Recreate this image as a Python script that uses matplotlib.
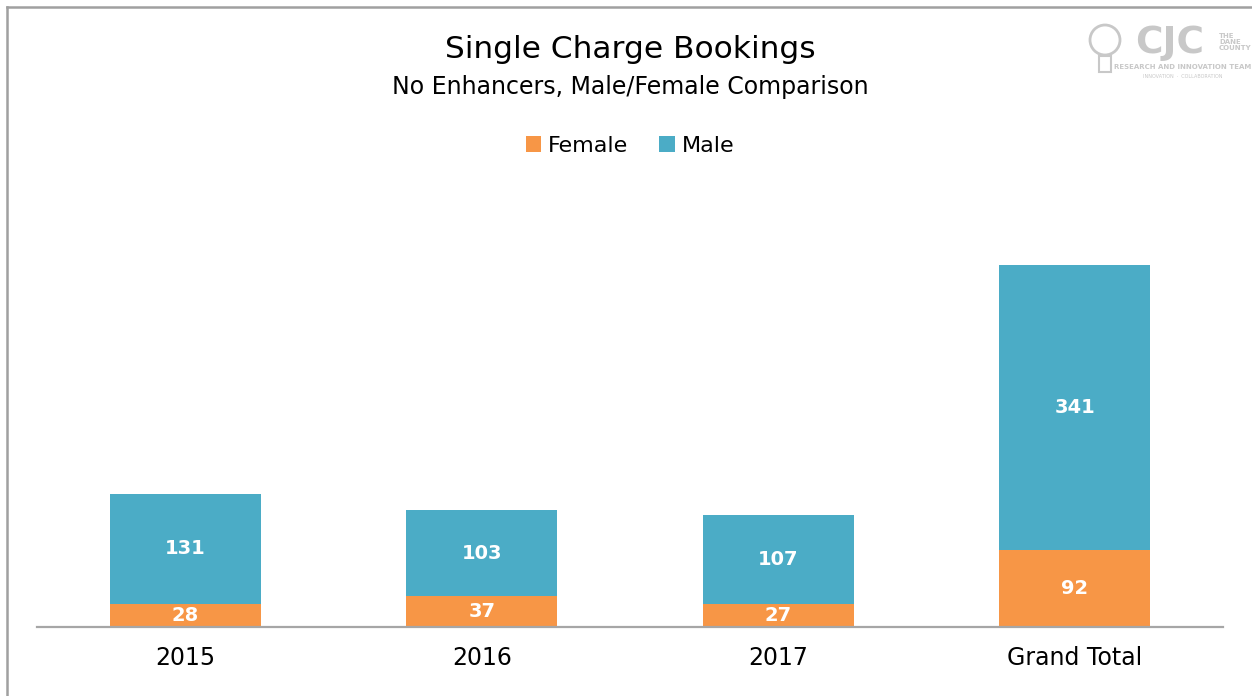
import matplotlib.pyplot as plt
from matplotlib.lines import Line2D
from matplotlib.patches import Ellipse, Rectangle

categories = ['2015', '2016', '2017', 'Grand Total']
female = [28, 37, 27, 92]
male = [131, 103, 107, 341]

orange = '#F79646'
blue = '#4BACC6'

plt.rcParams['font.family'] = ['DejaVu Sans']

W, H = 1252, 696
fig = plt.figure(figsize=(W / 100, H / 100), dpi=100)
ax = fig.add_axes([37 / W, 1 - 627 / H, 1186 / W, 418 / H])

x = range(len(categories))
bars_f = ax.bar(x, female, width=0.51, color=orange, label='Female')
bars_m = ax.bar(x, male, width=0.51, bottom=female, color=blue, label='Male')

# value labels in the middle of each segment
for bar, value in zip(bars_f, female):
    ax.text(bar.get_x() + bar.get_width() / 2, value / 2, str(value),
            ha='center', va='center', color='white', fontsize=14, fontweight='bold')
for bar, value, base in zip(bars_m, male, female):
    ax.text(bar.get_x() + bar.get_width() / 2, base + value / 2, str(value),
            ha='center', va='center', color='white', fontsize=14, fontweight='bold')

ax.set_xlim(-0.5, 3.5)
ax.set_ylim(0, 500)
ax.set_xticks(list(x))
ax.set_xticklabels(categories, fontsize=17)
ax.tick_params(axis='x', length=0, pad=14)
ax.set_yticks([])
for side in ['left', 'right', 'top']:
    ax.spines[side].set_visible(False)
ax.spines['bottom'].set_color('#a6a6a6')
ax.spines['bottom'].set_linewidth(1.6)

fig.text(630 / W, 1 - 50 / H, 'Single Charge Bookings', ha='center', va='center', fontsize=22.5)
fig.text(630 / W, 1 - 87 / H, 'No Enhancers, Male/Female Comparison', ha='center', va='center', fontsize=17)

fig.legend(loc='center', bbox_to_anchor=(630 / W, 1 - 146 / H), ncol=2, frameon=False,
           fontsize=16, handlelength=0.7, handleheight=0.7, handletextpad=0.3, columnspacing=1.4)

# figure border (left and top edges visible)
fig.add_artist(Line2D([7 / W, 7 / W], [0, 1 - 7 / H], color='#a0a0a0', lw=1.8))
fig.add_artist(Line2D([7 / W, 1], [1 - 7 / H, 1 - 7 / H], color='#a0a0a0', lw=1.8))

# logo approximation
logo_gray = '#c8c8c8'
fig.add_artist(Ellipse((1105 / W, 1 - 40 / H), 30 / W, 30 / H, transform=fig.transFigure,
                       fill=False, edgecolor=logo_gray, lw=2))
fig.add_artist(Rectangle((1099 / W, 1 - 72 / H), 12 / W, 16 / H, transform=fig.transFigure,
                         fill=False, edgecolor=logo_gray, lw=1.5))
fig.text(1170 / W, 1 - 43 / H, 'CJC', ha='center', va='center', fontsize=27,
         fontweight='bold', color=logo_gray)
fig.text(1219 / W, 1 - 42 / H, 'THE\nDANE\nCOUNTY', ha='left', va='center', fontsize=5,
         fontweight='bold', color=logo_gray, linespacing=1.1)
fig.text(1183 / W, 1 - 67 / H, 'RESEARCH AND INNOVATION TEAM', ha='center', va='center',
         fontsize=5, color=logo_gray, fontweight='bold')
fig.text(1183 / W, 1 - 77 / H, 'INNOVATION  ·  COLLABORATION', ha='center', va='center',
         fontsize=3.5, color=logo_gray)

fig.savefig('out.png', dpi=100)
